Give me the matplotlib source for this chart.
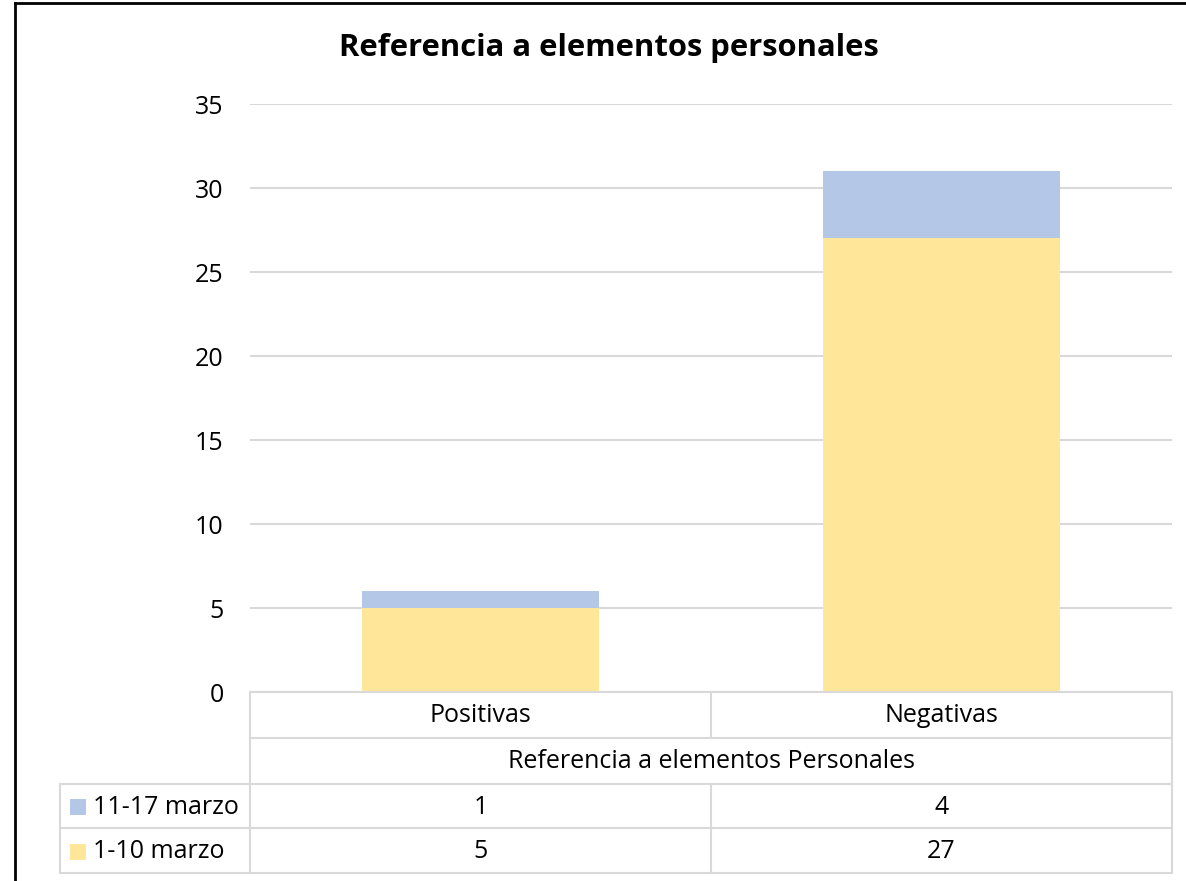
import matplotlib.pyplot as plt
from matplotlib.lines import Line2D
from matplotlib.patches import Rectangle

categories = ["Positivas", "Negativas"]
series_names = ["11-17 marzo", "1-10 marzo"]
marzo_11_17 = [1, 4]
marzo_1_10 = [5, 27]
axis_title = "Referencia a elementos Personales"
title = "Referencia a elementos personales"

BLUE = "#b4c7e7"
YELLOW = "#ffe699"
GRID = "#d9d9d9"
FONT = "Open Sans"
FS = 18

W, H = 1186, 881
fig = plt.figure(figsize=(W / 100, H / 100), dpi=100)
ax = fig.add_axes([250 / W, 189 / H, 922 / W, 588 / H])

x = list(range(len(categories)))
ax.bar(x, marzo_1_10, width=0.514, color=YELLOW, zorder=2)
ax.bar(x, marzo_11_17, width=0.514, bottom=marzo_1_10, color=BLUE, zorder=2)

ax.set_xlim(-0.5, 1.5)
ax.set_ylim(0, 35)
ax.set_yticks(range(0, 36, 5))
ax.yaxis.grid(True, color=GRID, linewidth=1.5, zorder=0)
ax.set_xticks([])
ax.tick_params(axis="y", length=0, pad=19, labelsize=FS)
for lab in ax.get_yticklabels():
    lab.set_fontfamily(FONT)
for s in ["top", "right", "left", "bottom"]:
    ax.spines[s].set_visible(False)

fig.text(609 / W, 1 - 48 / H, title, ha="center", va="center",
         fontsize=22.3, fontweight="bold", family=FONT)

# data table below the plot
tr = ax.get_xaxis_transform()
ph = 588.0
def fy(px):
    return -px / ph

rows = [0, 46, 92, 136, 181]
left = -0.5 - 190 / 461
kw = dict(color=GRID, linewidth=1.5, transform=tr, clip_on=False)

ax.plot([-0.5, 1.5], [0, 0], **kw)
ax.plot([-0.5, -0.5], [0, fy(rows[4])], **kw)
ax.plot([1.5, 1.5], [0, fy(rows[4])], **kw)
ax.plot([0.5, 0.5], [0, fy(rows[1])], **kw)
ax.plot([0.5, 0.5], [fy(rows[2]), fy(rows[4])], **kw)
ax.plot([-0.5, 1.5], [fy(rows[1]), fy(rows[1])], **kw)
for r in rows[2:]:
    ax.plot([left, 1.5], [fy(r), fy(r)], **kw)
ax.plot([left, left], [fy(rows[2]), fy(rows[4])], **kw)

tkw = dict(transform=tr, ha="center", va="center", fontsize=FS, family=FONT)
for i, c in enumerate(categories):
    ax.text(i, fy(24), c, **tkw)
ax.text(0.5, fy(70), axis_title, **tkw)

for j, (name, vals, col) in enumerate(zip(series_names, [marzo_11_17, marzo_1_10], [BLUE, YELLOW])):
    yc = fy((rows[2 + j] + rows[3 + j]) / 2 + 1)
    for i, v in enumerate(vals):
        ax.text(i, yc, str(v), **tkw)
    ax.text(left + 33 / 461, yc, name, transform=tr, ha="left", va="center",
            fontsize=FS, family=FONT)
    ax.add_patch(Rectangle((left + 10 / 461, yc - 8 / ph), 16 / 461, 16 / ph,
                           facecolor=col, edgecolor="none", transform=tr, clip_on=False))

# outer frame
fig.add_artist(Line2D([15 / W, 15 / W], [0, 1 - 3 / H], color="black", linewidth=2,
                      transform=fig.transFigure))
fig.add_artist(Line2D([15 / W, 1], [1 - 3 / H, 1 - 3 / H], color="black", linewidth=2,
                      transform=fig.transFigure))

fig.savefig("out.png", dpi=100)
